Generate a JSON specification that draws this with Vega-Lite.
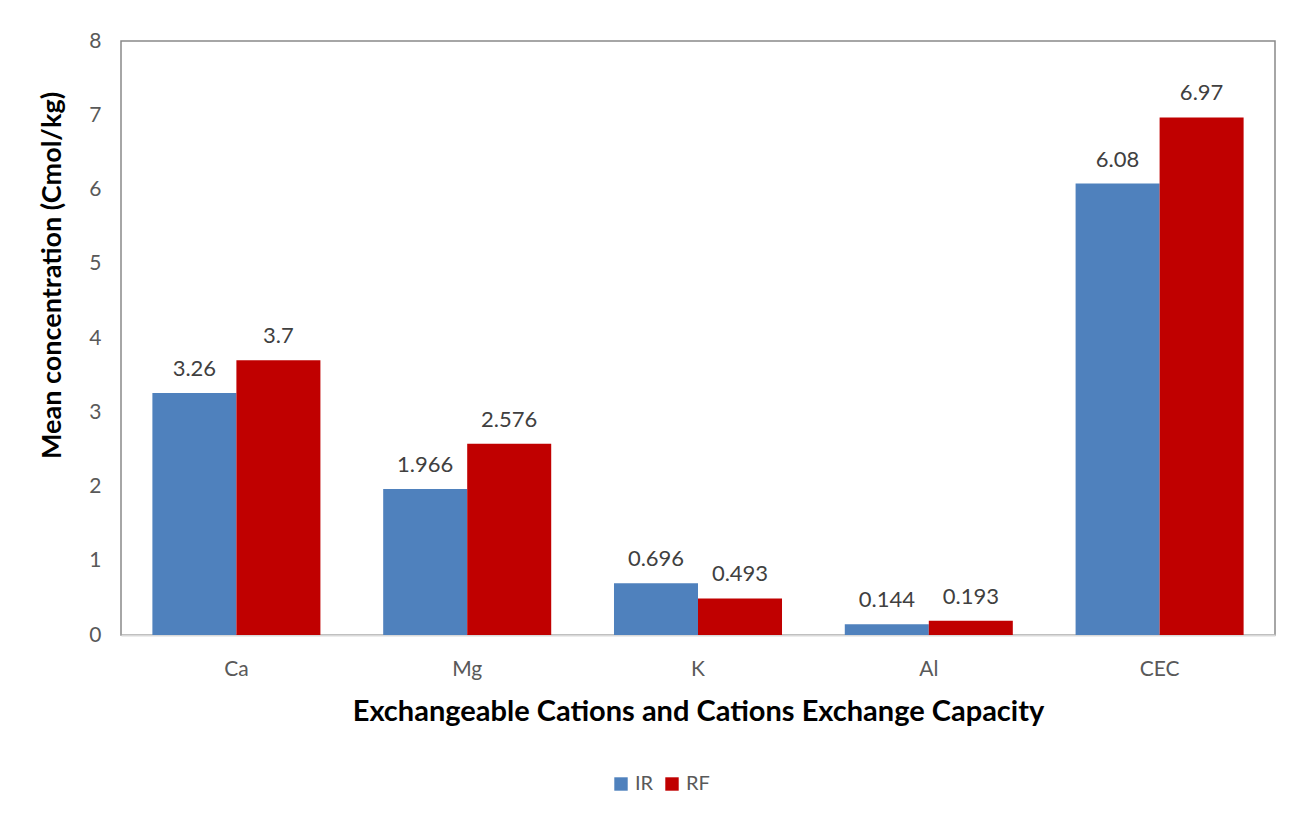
{
  "$schema": "https://vega.github.io/schema/vega-lite/v6.json",
  "autosize": {"type": "none"},
  "padding": {"left": 121, "top": 41, "right": 17, "bottom": 181},
  "width": 1154,
  "height": 594,
  "background": "white",
  "data": {"values": [
    {"cat": "Ca", "series": "IR", "value": 3.26, "label": "3.26"},
    {"cat": "Ca", "series": "RF", "value": 3.7, "label": "3.7"},
    {"cat": "Mg", "series": "IR", "value": 1.966, "label": "1.966"},
    {"cat": "Mg", "series": "RF", "value": 2.576, "label": "2.576"},
    {"cat": "K", "series": "IR", "value": 0.696, "label": "0.696"},
    {"cat": "K", "series": "RF", "value": 0.493, "label": "0.493"},
    {"cat": "Al", "series": "IR", "value": 0.144, "label": "0.144"},
    {"cat": "Al", "series": "RF", "value": 0.193, "label": "0.193"},
    {"cat": "CEC", "series": "IR", "value": 6.08, "label": "6.08"},
    {"cat": "CEC", "series": "RF", "value": 6.97, "label": "6.97"}
  ]},
  "encoding": {
    "x": {
      "field": "cat", "type": "nominal", "sort": ["Ca", "Mg", "K", "Al", "CEC"],
      "scale": {"paddingInner": 0.272, "paddingOuter": 0.136},
      "axis": {
        "title": "Exchangeable Cations and Cations Exchange Capacity",
        "titleFont": "Lato", "titleFontSize": 29, "titleFontWeight": "bold", "titleColor": "#000000",
        "titlePadding": 18,
        "labelFont": "Lato", "labelFontSize": 21, "labelColor": "#595959", "labelPadding": 23,
        "labelAngle": 0, "ticks": false,
        "domainColor": "#d9d9d9", "domainWidth": 2
      }
    },
    "xOffset": {"field": "series", "type": "nominal", "sort": ["IR", "RF"]},
    "y": {
      "field": "value", "type": "quantitative",
      "scale": {"domain": [0, 8], "nice": false},
      "axis": {
        "title": "Mean concentration (Cmol/kg)",
        "titleFont": "Lato", "titleFontSize": 27, "titleFontWeight": "bold", "titleColor": "#000000",
        "titleX": -69, "titleY": 234, "titleAlign": "center", "titleBaseline": "middle", "titleAngle": -90,
        "labelFont": "Lato", "labelFontSize": 21, "labelColor": "#595959", "labelPadding": 20,
        "values": [0,1,2,3,4,5,6,7,8], "labelOverlap": false,
        "ticks": false, "grid": false, "domain": false
      }
    }
  },
  "layer": [
    {
      "mark": {"type": "bar"},
      "encoding": {
        "color": {
          "field": "series", "type": "nominal",
          "scale": {"domain": ["IR", "RF"], "range": ["#4f81bd", "#c00000"]},
          "legend": {
            "title": null, "orient": "none", "direction": "horizontal",
            "legendX": 490, "legendY": 733,
            "symbolType": "square", "symbolSize": 180, "symbolStrokeWidth": 0,
            "labelFont": "Lato", "labelFontSize": 20, "labelColor": "#595959",
            "columnPadding": 8, "labelOffset": 4
          }
        }
      }
    },
    {
      "mark": {"type": "text", "baseline": "bottom", "dy": -12, "font": "Lato", "fontSize": 22, "color": "#404040"},
      "encoding": {"text": {"field": "label"}}
    }
  ],
  "config": {
    "view": {"stroke": "#898989", "strokeWidth": 1.5}
  }
}
